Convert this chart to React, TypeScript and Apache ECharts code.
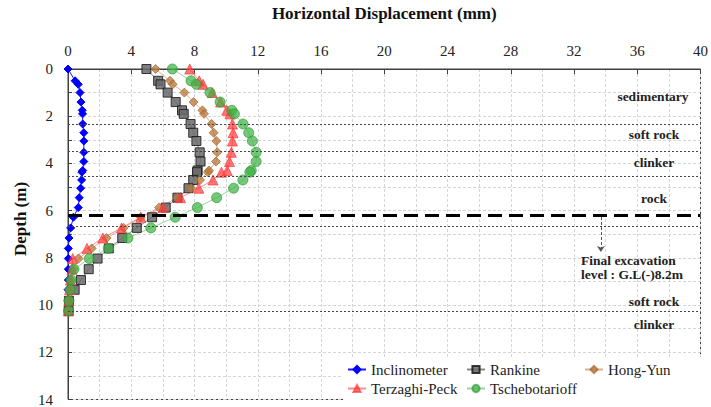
import React, { useEffect, useRef } from "react";
import * as echarts from "echarts";

const depths = [0, 0.5, 0.65, 1.0, 1.4, 1.75, 1.9, 2.33, 2.7, 3.05, 3.53, 3.92, 4.3, 4.37, 4.7, 5.05, 5.45, 5.87, 6.28, 6.73, 7.16, 7.6, 8.03, 8.48, 8.94, 9.35, 9.82, 10.25];
const inclinometer = [0, 0.45, 0.65, 0.76, 0.82, 0.9, 0.92, 0.93, 1.0, 1.0, 1.0, 1.0, 0.93, 0.88, 0.86, 0.8, 0.71, 0.65, 0.34, 0.17, 0.06, 0.02, 0.02, 0.02, 0.02, 0.0, 0.0, 0.0];
const rankine = [4.96, 5.7, 5.85, 6.3, 6.81, 7.21, 7.32, 7.75, 7.92, 8.12, 8.33, 8.38, 8.2, 8.16, 7.92, 7.62, 6.92, 6.18, 5.32, 4.35, 3.43, 2.58, 1.87, 1.31, 0.82, 0.42, 0.06, 0.04];
const hongYun = [5.54, 6.45, 6.62, 7.36, 7.94, 8.5, 8.6, 9.08, 9.21, 9.38, 9.44, 9.36, 8.92, 8.85, 8.35, 7.78, 6.9, 5.76, 4.6, 3.52, 2.44, 1.5, 0.67, 0.35, 0.2, 0.1, 0.05, 0.03];
const terzaghiPeck = [7.7, 8.3, 8.54, 9.12, 9.65, 10.04, 10.24, 10.4, 10.44, 10.4, 10.33, 10.21, 10.07, 9.7, 9.17, 8.27, 7.12, 6.02, 4.6, 3.39, 2.2, 1.2, 0.3, 0.25, 0.15, 0.1, 0.05, 0.03];
const tschebotarioff = [6.6, 7.78, 8.12, 8.98, 9.62, 10.36, 10.52, 11.07, 11.43, 11.66, 11.9, 11.9, 11.59, 11.5, 11.06, 10.47, 9.4, 8.18, 6.78, 5.24, 3.79, 2.55, 1.35, 0.38, 0.2, 0.13, 0.06, 0.04];

const layerBoundaries = [2.33, 3.5, 4.55, 6.65, 10.27];
const excavationLine = 6.2;
const xRange = [0, 40];
const xLabelStep = 4;
const yRange = [0, 14];
const yLabelStep = 2;

const FONT = "Liberation Serif";

function pairs(vals: number[]) {
  return vals.map((v, i) => [v, depths[i]]);
}

export default function App() {
  const ref = useRef<HTMLDivElement>(null);
  useEffect(() => {
    if (!ref.current) return;
    const chart = echarts.init(ref.current, undefined, { renderer: "svg" });
    const lineSeries = (
      name: string,
      vals: number[],
      lineColor: string,
      symbol: string,
      size: number,
      fill: string,
      border: string,
      opacity: number
    ) => ({
      name,
      type: "line",
      data: pairs(vals),
      symbol,
      symbolSize: size,
      showAllSymbol: true,
      clip: false,
      lineStyle: { color: lineColor, width: 1 },
      itemStyle: { color: fill, borderColor: border, borderWidth: 1, opacity },
      emphasis: { disabled: true },
    });

    const legendItem = (name: string, left: number, top: number) => ({
      data: [name],
      left,
      top,
      padding: 0,
      itemWidth: 18,
      itemHeight: 9,
      itemGap: 0,
      textStyle: { fontFamily: FONT, fontSize: 15, color: "#222" },
    });

    const annot = (text: string, x: number, y: number, align = "center") => ({
      type: "text",
      x,
      y,
      z: 10,
      style: {
        text,
        fontFamily: FONT,
        fontWeight: "bold",
        fontSize: 13.5,
        fill: "#222",
        textAlign: align,
        textVerticalAlign: "middle",
      },
    });

    const gridLine = { color: "#d6d6d6", type: [3, 2], width: 1 };

    const option: any = {
      animation: false,
      backgroundColor: "#fff",
      textStyle: { fontFamily: FONT },
      grid: {
        left: 68,
        top: 65,
        right: 9,
        bottom: 5,
        show: true,
        borderColor: "#404040",
        borderWidth: 1,
        backgroundColor: "transparent",
      },
      xAxis: {
        type: "value",
        position: "top",
        min: xRange[0],
        max: xRange[1],
        interval: xLabelStep,
        name: "Horizontal Displacement (mm)",
        nameLocation: "middle",
        nameGap: 47,
        nameTextStyle: { fontFamily: FONT, fontSize: 17, fontWeight: "bold", color: "#111" },
        axisLine: { lineStyle: { color: "#404040", width: 1 } },
        axisTick: { inside: true, length: 5, lineStyle: { color: "#404040" } },
        axisLabel: { fontFamily: FONT, fontSize: 15, color: "#222", margin: 11 },
        splitLine: { show: true, lineStyle: gridLine },
        minorTick: { show: false, splitNumber: 2 },
        minorSplitLine: { show: true, lineStyle: gridLine },
      },
      yAxis: {
        type: "value",
        inverse: true,
        min: yRange[0],
        max: yRange[1],
        interval: yLabelStep,
        axisLine: { show: true, lineStyle: { color: "#404040", width: 1 } },
        axisTick: { show: true, inside: true, length: 4, lineStyle: { color: "#404040" } },
        minorTick: { show: true, splitNumber: 2, length: 4, lineStyle: { color: "#404040" } },
        axisLabel: { fontFamily: FONT, fontSize: 15, color: "#222", margin: 15 },
        splitLine: { show: true, lineStyle: gridLine },
        minorSplitLine: { show: true, lineStyle: gridLine },
      },
      legend: [
        legendItem("Inclinometer", 347, 362),
        legendItem("Rankine", 466, 362),
        legendItem("Hong-Yun", 584, 362),
        legendItem("Terzaghi-Peck", 347, 381),
        legendItem("Tschebotarioff", 466, 381),
      ],
      graphic: {
        elements: [
          {
            type: "rect",
            shape: { x: 343, y: 357, width: 358, height: 44.5 },
            style: { fill: "#fff" },
            z: 3,
          },
          {
            type: "text",
            x: 20,
            y: 219,
            rotation: Math.PI / 2,
            z: 10,
            style: {
              text: "Depth (m)",
              fontFamily: FONT,
              fontWeight: "bold",
              fontSize: 17,
              fill: "#111",
              textAlign: "center",
              textVerticalAlign: "middle",
            },
          },
          annot("sedimentary", 653, 96),
          annot("soft rock", 654, 134),
          annot("clinker", 654, 162),
          annot("rock", 654, 198),
          annot("Final excavation", 581, 260, "left"),
          annot("level : G.L(-)8.2m", 581, 274, "left"),
          annot("soft rock", 654, 301),
          annot("clinker", 654, 324),
        ],
      },
      series: [
        {
          ...lineSeries("Inclinometer", inclinometer, "#1a1aff", "diamond", 8, "#0000ff", "#0000ff", 1),
          markLine: {
            silent: true,
            symbol: "none",
            label: { show: false },
            animation: false,
            data: [
              ...layerBoundaries.map((d) => ({
                yAxis: d,
                lineStyle: { color: "#444", width: 1, type: [2, 2] },
              })),
              {
                yAxis: excavationLine,
                lineStyle: { color: "#000", width: 3, type: [14, 7] },
              },
              [
                {
                  coord: [33.7, 6.27],
                  symbol: "none",
                  lineStyle: { color: "#555", width: 1, type: [3, 2] },
                },
                { coord: [33.7, 7.75], symbol: "arrow", symbolSize: 6 },
              ],
            ],
          },
        },
        lineSeries("Rankine", rankine, "#888", "rect", 9, "#6a6a6a", "#1a1a1a", 0.85),
        lineSeries("Hong-Yun", hongYun, "#d9b08c", "diamond", 9, "#b8773c", "#a86a30", 0.75),
        lineSeries("Terzaghi-Peck", terzaghiPeck, "#ff8c8c", "triangle", 10, "#ff3a3a", "#ff3a3a", 0.7),
        lineSeries("Tschebotarioff", tschebotarioff, "#9ad89a", "circle", 10, "#3cb043", "#2e9a35", 0.7),
      ],
    };
    chart.setOption(option);
    return () => chart.dispose();
  }, []);
  return (
    <div
      ref={ref}
      style={{ position: "fixed", left: 0, top: 0, width: 711, height: 407, background: "#fff" }}
    />
  );
}
